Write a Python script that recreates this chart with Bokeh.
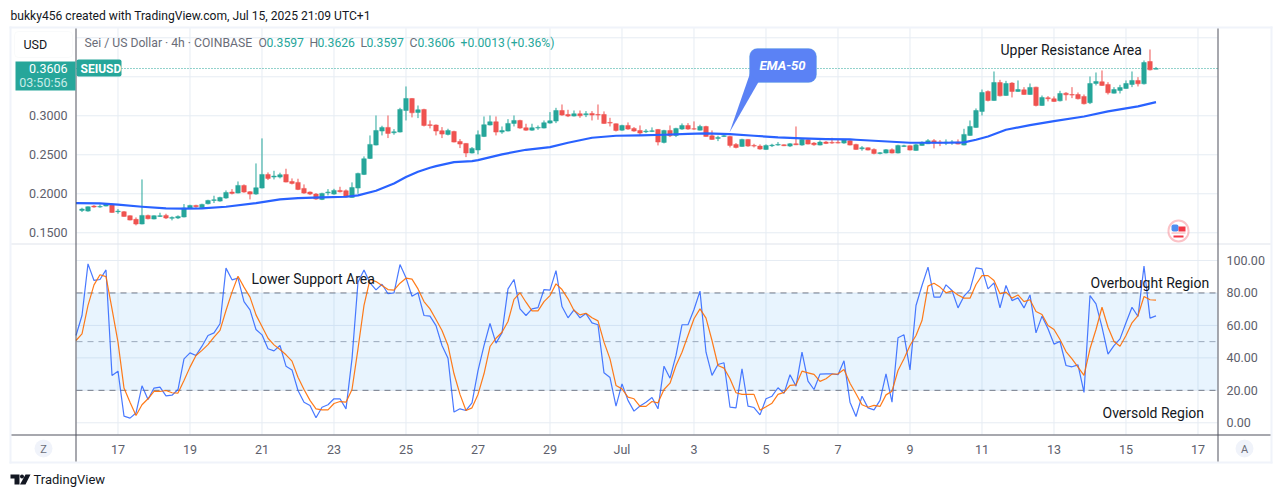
from bokeh.embed import file_html
from bokeh.resources import INLINE
from bokeh.plotting import figure
from bokeh.models import (ColumnDataSource, Range1d, LinearAxis, FixedTicker, NumeralTickFormatter,
                          BoxAnnotation, Label, PolyAnnotation)

candle_index = list(range(-6, 174))
opens = [.1787,.1778,.1842,.1830,.1842,.1864,.1770,.1770,.1719,
.1672,.1612,.1723,.1676,.1710,.1723,.1685,.1689,.1702,.1817,
.1851,.1821,.1872,.1915,.1906,.1945,.2022,.2009,.2107,.2026,
.1996,.2073,.2248,.2214,.2214,.2248,.2158,.2146,.2069,.2022,
.1996,.1928,.2013,.1996,.2043,.2039,.1953,.2073,.2248,.2453,
.2624,.2804,.2851,.2782,.2791,.3068,.3222,.3043,.3081,.2885,
.2881,.2808,.2761,.2799,.2671,.2646,.2522,.2561,.2735,.2881,
.2923,.2791,.2804,.2902,.2940,.2846,.2816,.2842,.2842,.2906,
.2932,.3068,.3017,.2996,.3026,.3013,.3030,.3017,.3017,.2915,
.2898,.2816,.2876,.2838,.2812,.2795,.2799,.2825,.2659,.2812,
.2748,.2829,.2876,.2833,.2816,.2863,.2744,.2710,.2735,.2735,
.2633,.2607,.2697,.2620,.2611,.2569,.2616,.2624,.2628,.2611,
.2641,.2624,.2693,.2650,.2624,.2663,.2659,.2659,.2650,.2680,
.2633,.2577,.2590,.2569,.2517,.2522,.2565,.2522,.2607,.2616,
.2556,.2620,.2641,.2680,.2663,.2650,.2654,.2663,.2624,.2748,
.2851,.3056,.3312,.3196,.3427,.3260,.3419,.3312,.3333,.3273,
.3367,.3132,.3231,.3218,.3192,.3290,.3273,.3273,.3248,.3167,
.3414,.3436,.3402,.3290,.3325,.3350,.3401,.3453,.3410,.3696,.3597]
highs = [.1821,.1838,.1855,.1864,.1881,.1872,.1804,.1778,.1723,
.1697,.2184,.1732,.1723,.1757,.1744,.1710,.1723,.1868,.1859,
.1859,.1872,.1923,.1975,.1962,.2043,.2060,.2158,.2120,.2034,
.2389,.2710,.2274,.2295,.2270,.2321,.2197,.2193,.2120,.2030,
.2009,.2013,.2060,.2064,.2090,.2056,.2146,.2270,.2479,.2748,
.3004,.2872,.3004,.2829,.3102,.3376,.3225,.3132,.3090,.2940,
.2889,.2855,.2834,.2808,.2701,.2650,.2599,.2812,.2991,.3004,
.2991,.2863,.2957,.3004,.2949,.2898,.2898,.2876,.2940,.3047,
.3102,.3145,.3077,.3068,.3068,.3060,.3060,.3145,.3056,.2974,
.2902,.2885,.2915,.2855,.2876,.2829,.2851,.2829,.2820,.2876,
.2846,.2902,.2906,.2928,.2885,.2872,.2812,.2744,.2761,.2744,
.2650,.2705,.2701,.2641,.2633,.2633,.2641,.2663,.2633,.2650,
.2863,.2705,.2701,.2663,.2684,.2676,.2718,.2693,.2701,.2693,
.2641,.2611,.2594,.2582,.2535,.2573,.2582,.2628,.2628,.2620,
.2641,.2671,.2701,.2701,.2688,.2697,.2688,.2697,.2833,.2940,
.3094,.3337,.3325,.3568,.3461,.3448,.3431,.3453,.3367,.3414,
.3372,.3260,.3252,.3248,.3320,.3303,.3367,.3299,.3273,.3504,
.3555,.3581,.3431,.3367,.3397,.3453,.3568,.3495,.3709,.3850,.3626]
lows = [.1766,.1770,.1821,.1821,.1838,.1757,.1744,.1706,.1659,
.1595,.1608,.1672,.1672,.1702,.1676,.1659,.1676,.1697,.1808,
.1821,.1812,.1864,.1881,.1898,.1936,.1992,.2005,.2013,.1928,
.1987,.2068,.2176,.2184,.2197,.2146,.2120,.2047,.2000,.1983,
.1923,.1919,.1979,.1987,.2017,.1953,.1949,.2000,.2240,.2445,
.2620,.2748,.2714,.2757,.2786,.2940,.2979,.2970,.2863,.2838,
.2748,.2714,.2748,.2659,.2586,.2470,.2517,.2505,.2727,.2876,
.2748,.2769,.2799,.2863,.2833,.2808,.2808,.2820,.2838,.2898,
.2906,.3000,.2983,.2991,.2974,.2983,.2940,.2949,.2898,.2863,
.2799,.2808,.2820,.2795,.2752,.2778,.2791,.2620,.2646,.2727,
.2727,.2820,.2820,.2820,.2812,.2731,.2693,.2675,.2727,.2594,
.2582,.2603,.2603,.2594,.2565,.2565,.2599,.2616,.2611,.2599,
.2624,.2616,.2633,.2616,.2620,.2637,.2641,.2646,.2641,.2620,
.2565,.2552,.2556,.2505,.2505,.2517,.2517,.2517,.2599,.2556,
.2552,.2616,.2637,.2582,.2611,.2624,.2628,.2633,.2620,.2744,
.2846,.3004,.3184,.3192,.3248,.3256,.3235,.3308,.3269,.3269,
.3120,.3128,.3184,.3179,.3184,.3196,.3226,.3209,.3145,.3150,
.3389,.3384,.3273,.3286,.3286,.3346,.3367,.3376,.3401,.3581,.3597]
closes = [.1804,.1834,.1830,.1838,.1868,.1761,.1778,.1710,.1663,
.1612,.1723,.1680,.1719,.1719,.1689,.1697,.1710,.1817,.1851,
.1834,.1864,.1915,.1923,.1953,.2017,.2005,.2107,.2022,.1996,
.2077,.2248,.2197,.2227,.2244,.2150,.2133,.2056,.2009,.1996,
.1932,.2005,.2022,.2043,.2026,.1958,.2081,.2261,.2449,.2633,
.2812,.2851,.2774,.2795,.3081,.3222,.3038,.3077,.2876,.2876,
.2804,.2765,.2812,.2663,.2637,.2522,.2582,.2757,.2885,.2923,
.2791,.2812,.2902,.2940,.2842,.2816,.2846,.2851,.2911,.2936,
.3068,.3009,.2996,.3026,.3000,.3026,.3009,.3009,.2902,.2906,
.2812,.2876,.2829,.2804,.2778,.2804,.2808,.2663,.2812,.2744,
.2838,.2876,.2829,.2829,.2863,.2735,.2697,.2723,.2744,.2620,
.2594,.2697,.2611,.2611,.2573,.2620,.2624,.2633,.2616,.2641,
.2628,.2697,.2637,.2628,.2663,.2646,.2650,.2650,.2688,.2624,
.2569,.2590,.2560,.2517,.2526,.2565,.2522,.2620,.2616,.2560,
.2628,.2659,.2680,.2650,.2650,.2663,.2663,.2637,.2761,.2863,
.3068,.3299,.3196,.3427,.3256,.3414,.3312,.3337,.3273,.3363,
.3132,.3235,.3218,.3184,.3286,.3269,.3265,.3218,.3154,.3414,
.3440,.3389,.3295,.3337,.3363,.3414,.3453,.3410,.3683,.3589,.3606]

ema_index = [-7,-3,0,4,8,11,14,18,23,27,30,34,38,40,43,46,48,50,52,53,56,59,60,64,68,72,75,79,83,87,
             91,95,98,102,106,110,114,118,122,123,126,129,132,135,138,141,143,145,148,152,156,161,165,170,173]
ema_values = [.1881,.1877,.1860,.1834,.1813,.1809,.1813,.1834,.1881,.1928,.1945,.1954,.1962,.1979,.2039,.2133,.2214,.2283,.2334,.2355,.2406,.2419,.2432,.2505,.2564,.2599,.2654,.2718,.2744,.2748,
              .2757,.2769,.2774,.2765,.2744,.2722,.2710,.2701,.2697,.2693,.2680,.2667,.2654,.2654,.2654,.2659,.2693,.2735,.2821,.2880,.2932,.2991,.3056,.3120,.3175]

stoch_index = list(range(-7, 174))
stoch_k = [53.8,66.1,97.9,87.7,88.3,94.2,29.2,31.8,4.1,2.9,
6.0,22.8,14.4,21.4,22.0,16.6,17.0,20.5,39.4,43.1,
41.5,47.2,53.8,55.4,61.0,95.3,88.1,89.1,74.7,69.6,
57.5,54.2,45.6,44.3,47.6,34.9,32.6,19.9,12.7,10.7,
3.1,9.6,11.1,14.8,14.8,8.6,39.4,86.6,94.2,86.2,
81.9,85.4,79.5,80.1,97.5,89.3,78.0,80.1,66.1,65.7,
59.9,47.6,39.8,6.6,8.6,7.6,12.3,32.2,47.6,61.2,
49.1,55.4,82.5,88.3,70.2,66.1,70.2,71.0,82.1,81.7,
93.8,71.6,64.7,69.6,64.7,67.3,61.6,60.4,30.8,27.9,
10.3,24.0,13.8,7.2,10.3,12.7,15.6,8.6,34.9,27.5,
41.5,60.4,60.4,69.8,81.1,43.5,29.2,35.9,37.0,9.6,
9.2,33.3,10.3,9.4,4.9,14.8,16.4,21.6,18.1,29.6,
22.6,43.5,25.7,20.5,30.0,30.2,30.2,29.6,38.2,12.7,
3.9,16.4,9.2,8.0,13.8,30.2,12.7,52.4,54.2,32.6,
72.3,84.6,95.9,77.4,77.4,85.0,81.5,70.8,78.0,82.1,
95.5,94.8,82.5,86.2,70.8,84.6,75.3,77.0,70.8,78.8,
55.4,65.7,57.9,48.5,50.1,35.3,34.5,35.7,18.7,78.4,
73.3,58.9,42.3,47.6,51.7,61.6,71.2,65.5,96.5,64.5,65.9]
stoch_d = [50.7,54.8,72.3,85.0,91.2,90.1,70.2,49.7,21.4,12.7,
4.5,11.1,14.8,19.3,19.3,19.9,18.5,18.3,26.1,34.3,
41.5,44.6,48.2,52.8,56.9,69.2,80.5,90.3,83.6,77.4,
66.5,59.3,52.1,48.0,45.2,41.9,38.0,28.1,20.5,13.8,
8.6,8.0,8.0,11.9,13.1,12.7,20.5,45.6,72.3,88.3,
87.0,84.6,82.1,81.7,86.0,89.1,88.5,82.5,74.7,70.2,
63.6,56.9,47.6,30.2,17.5,7.6,9.2,17.5,30.2,47.0,
52.1,55.8,62.4,76.0,80.1,74.3,69.0,69.0,74.7,78.4,
85.6,82.1,76.4,69.2,66.5,67.5,64.7,62.8,49.7,39.4,
23.0,20.9,15.8,14.8,10.1,10.1,13.1,12.3,20.5,24.4,
35.3,43.5,53.8,64.1,70.2,64.5,50.7,35.3,33.7,27.1,
18.5,17.5,17.5,17.5,7.8,9.9,12.1,17.5,18.7,23.0,
23.4,31.8,30.8,29.8,25.5,27.1,30.0,30.2,32.8,24.4,
17.9,11.1,9.6,10.7,10.1,17.2,19.5,32.2,39.4,47.6,
53.8,63.0,84.2,86.0,83.6,80.1,81.3,78.8,76.8,76.8,
85.2,90.7,90.7,87.7,79.5,80.5,76.8,78.8,74.7,75.8,
68.6,66.7,59.9,57.5,51.3,43.9,39.4,34.3,29.2,45.6,
57.5,71.2,58.9,50.1,47.2,53.8,61.6,66.1,77.8,75.8,75.6]

x_tick_positions = [0,12,24,36,48,60,72,84,96,108,120,132,144,156,168,180]
x_tick_labels = ["17","19","21","23","25","27","29","Jul","3","5","7","9","11","13","15","17"]
price_ticks = [0.15,0.20,0.25,0.30]
price_grid = [0.15,0.20,0.25,0.30,0.35,0.40]
ind_ticks = [0,20,40,60,80,100]
last_price = 0.3606
ind_upper, ind_mid, ind_lower = 80, 50, 20

GREEN, RED = "#26a69a", "#ef5350"
FONT = "Roboto"
LABEL = "#5d606b"
GRID = "#e6ecf3"

# pane limits in data units
X_L, X_R = -6.917, 183.25
P_B, P_T = -0.1086, 0.4132

p = figure(width=1281, height=497, output_backend="svg", toolbar_location=None,
           x_range=Range1d(-19.583, 193.917), y_range=Range1d(-0.1894, 0.4478),
           min_border_left=0, min_border_right=0, min_border_top=0, min_border_bottom=0,
           background_fill_color="white", border_fill_color="white", outline_line_color=None,
           x_axis_location=None, y_axis_location=None)
p.grid.visible = False
p.extra_y_ranges = {"ind": Range1d(-46.03, 260.2)}

# grid
p.segment(x_tick_positions, P_B, x_tick_positions, P_T, color=GRID, line_width=1, level="underlay")
p.segment(X_L, price_grid, X_R, price_grid, color=GRID, line_width=1, level="underlay")
p.segment(X_L, ind_ticks, X_R, ind_ticks, y_range_name="ind", color=GRID, line_width=1, level="underlay")

common = dict(axis_line_color=None, major_tick_line_color=None, minor_tick_line_color=None,
              major_label_text_font=FONT, major_label_text_font_size="12.5px", major_label_text_color=LABEL,
              major_tick_in=0, major_tick_out=0)
bottom = LinearAxis(ticker=FixedTicker(ticks=x_tick_positions), fixed_location=P_B,
                    major_label_overrides=dict(zip(x_tick_positions, x_tick_labels)),
                    major_label_standoff=8, **common)
left = LinearAxis(ticker=FixedTicker(ticks=price_ticks), formatter=NumeralTickFormatter(format="0.0000"),
                  fixed_location=X_L, major_label_standoff=9, **common)
right = LinearAxis(y_range_name="ind", ticker=FixedTicker(ticks=ind_ticks), formatter=NumeralTickFormatter(format="0.00"),
                   fixed_location=X_R, major_label_standoff=9, **common)
p.add_layout(bottom, "below"); p.add_layout(left, "left"); p.add_layout(right, "right")

# indicator band and levels
p.add_layout(BoxAnnotation(left=X_L, right=X_R, bottom=ind_lower, top=ind_upper, y_range_name="ind",
                           fill_color="#2196f3", fill_alpha=0.1, line_color=None, level="underlay"))
for lvl, c in [(ind_upper, "#787b86"), (ind_lower, "#787b86"), (ind_mid, "#a9acb5")]:
    p.segment(X_L, lvl, X_R, lvl, y_range_name="ind", color=c, line_dash="6 5", line_width=1, level="underlay")
p.segment(X_L, last_price, X_R, last_price, color=GREEN, line_dash="1 2", line_width=1, level="underlay")

src = ColumnDataSource(dict(x=candle_index, o=opens, h=highs, l=lows, c=closes,
                            col=[GREEN if c >= o else RED for o, c in zip(opens, closes)]))
p.segment("x", "l", "x", "h", source=src, color="col", line_width=1)
p.vbar("x", 0.75, "o", "c", source=src, fill_color="col", line_color="col", line_width=0.5)
p.line(ema_index, ema_values, color="#2962ff", line_width=2.2, line_join="round")
p.line(stoch_index, stoch_k, y_range_name="ind", color="#2962ff", line_width=1.2, line_alpha=0.85)
p.line(stoch_index, stoch_d, y_range_name="ind", color="#ff6d00", line_width=1.2, line_alpha=0.9)

def box(x0, y0, x1, y1, fill="white", line=None, lw=1, r=0, alpha=1):
    p.add_layout(BoxAnnotation(left=x0, right=x1, top=y0, bottom=y1,
                               left_units="canvas", right_units="canvas", top_units="canvas", bottom_units="canvas",
                               fill_color=fill, fill_alpha=alpha, line_color=line, line_width=lw, border_radius=r))

def text(x, y, s, size=12.5, color="#131722", align="left", font=FONT, style="normal"):
    p.add_layout(Label(x=x, y=y, x_units="canvas", y_units="canvas", text=s, text_font=font,
                       text_font_size=f"{size}px", text_color=color, text_align=align, text_baseline="middle",
                       text_font_style=style))

def poly(xs, ys, fill, line=None):
    p.add_layout(PolyAnnotation(xs=xs, ys=ys, xs_units="canvas", ys_units="canvas",
                                fill_color=fill, fill_alpha=1, line_color=line))

# frame lines
EDGE = "#f0f3fa"
box(9, 26, 1272, 28, fill=EDGE); box(9, 461, 1272, 463, fill=EDGE)
box(9, 26, 11, 463, fill=EDGE); box(1270, 26, 1272, 463, fill=EDGE)
box(11, 243, 1270, 244, fill="#e0e3eb")
box(11, 434, 1270, 435, fill="#50535e")
box(75, 28, 76, 461, fill="#50535e"); box(1217, 28, 1218, 461, fill="#50535e")

# header
text(10, 15, "bukky456 created with TradingView.com, Jul 15, 2025 21:09 UTC+1", color="#131722", size=12.1)
text(84, 42, "Sei / US Dollar · 4h · COINBASE", color="#6a6d78", size=12.2)
for x, s in [(258, "O"), (309, "H"), (360, "L"), (409, "C")]:
    text(x, 42, s, color="#6a6d78", size=12.2)
for x, s in [(266, "0.3597"), (317, "0.3626"), (366, "0.3597"), (417, "0.3606"), (460, "+0.0013"), (506, "(+0.36%)")]:
    text(x, 42, s, color=GREEN, size=12.2)

box(14, 31, 72, 57, fill="white", line="#eceef2", r=4)
text(23, 44, "USD", color="#131722")
box(15, 61, 75, 90, fill=GREEN)
text(67, 68, "0.3606", color="white", align="right")
text(67, 82, "03:50:56", color="#c6ebe7", align="right")
box(76, 59, 121, 76, fill=GREEN, r=2)
text(80, 68, "SEIUSD", color="white", style="bold", size=12)

# EMA callout
box(749, 48, 816, 82, fill="#5b82f5", line="#56a8dc", r=8)
poly([749.5, 729, 758], [73, 132, 81.5], "#5b82f5")
text(782, 65, "EMA-50", color="white", align="center", style="bold italic", size=13)

# free text
text(1000, 49, "Upper Resistance Area", size=14)
text(251, 278, "Lower Support Area", size=14)
text(1090, 282, "Overbought Region", size=14)
text(1102, 412, "Oversold Region", size=14)

# flag
box(1168, 220, 1188, 241, fill="white", line="#f23645", lw=2, r=10)
box(1171, 224, 1178, 231, fill="#4f8df0", r=2)
box(1178, 226, 1185, 231, fill="#f23645")
box(1171, 232, 1185, 233, fill="#f5a5aa")
box(1173, 235, 1183, 237, fill="#f23645")

# scale buttons
box(34, 439, 52, 457, fill=EDGE, r=9)
text(43, 449, "Z", color="#6a6d78", align="center", size=11)
box(1235, 439, 1253, 457, fill=EDGE, r=9)
text(1244, 449, "A", color="#6a6d78", align="center", size=11)

# TradingView mark
poly([10, 19, 19, 14, 14, 10], [474, 474, 484, 484, 478, 478], "#131722")
box(19.5, 474, 23.5, 478, fill="#131722", r=2)
poly([25, 30, 25, 19.5], [474, 474, 484, 484], "#131722")
text(33, 479, "TradingView", size=13, color="#131722")

open("out.html", "w").write(file_html(p, INLINE))
